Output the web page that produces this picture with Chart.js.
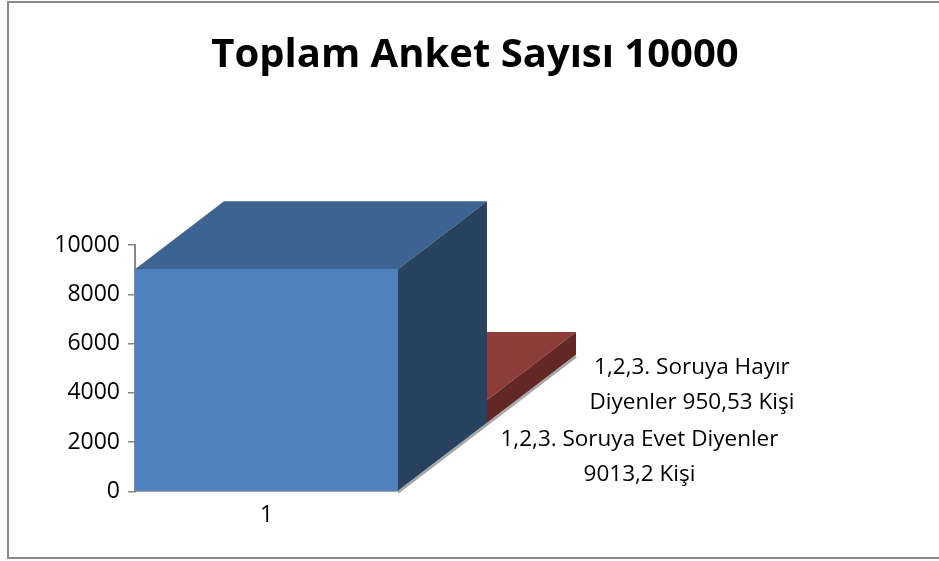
<!DOCTYPE html>
<html>
<head>
<meta charset="utf-8">
<script src="https://cdn.jsdelivr.net/npm/chart.js@4/dist/chart.umd.min.js"></script>
<style>
  html, body { margin: 0; padding: 0; background: #fff; }
  #wrap { position: relative; width: 939px; height: 561px; overflow: hidden; }
  #frame { position: absolute; left: 7px; top: 1px; width: 940px; height: 558px; border: 2px solid #8a8a8a; box-sizing: border-box; pointer-events: none; }
  canvas { position: absolute; left: 0; top: 0; }
</style>
</head>
<body>
<div id="wrap">
  <canvas id="chart" width="939" height="561"></canvas>
  <div id="frame"></div>
</div>
<script>
// chart data
const categories = ["1"];
const evetValues = [9013.2];
const hayirValues = [950.53];
const seriesLabels = [
  ["1,2,3. Soruya Evet Diyenler", "9013,2 Kişi"],
  ["1,2,3. Soruya Hayır", "Diyenler 950,53 Kişi"],
];
const yTicks = [0, 2000, 4000, 6000, 8000, 10000];
const titleText = "Toplam Anket Sayısı 10000";

// 3d depth of one series row
const DX = 89, DY = -68;
const faceColors = [
  { front: "#4F81BD", top: "#3D6490", side: "#294260" },
  { front: "#9E413E", top: "#8E3C3A", side: "#622826" },
];
const FONT = "'Open Sans', Lato, sans-serif";

function poly(ctx, pts, color) {
  ctx.beginPath();
  ctx.moveTo(pts[0][0], pts[0][1]);
  for (let i = 1; i < pts.length; i++) ctx.lineTo(pts[i][0], pts[i][1]);
  ctx.closePath();
  ctx.fillStyle = color;
  ctx.fill();
}

const cube3d = {
  id: "cube3d",
  beforeDatasetsDraw(chart) {
    const ctx = chart.ctx;
    const area = chart.chartArea;
    ctx.save();
    // right floor edge
    ctx.strokeStyle = "#a6a6a6";
    ctx.lineWidth = 2.5;
    ctx.beginPath();
    ctx.moveTo(area.right, area.bottom + 1);
    ctx.lineTo(area.right + 2 * DX, area.bottom + 1 + 2 * DY);
    ctx.stroke();

    // back row first
    for (let row = chart.data.datasets.length - 1; row >= 0; row--) {
      const meta = chart.getDatasetMeta(row);
      const c = faceColors[row];
      meta.data.forEach((bar) => {
        const L = bar.x - bar.width / 2 + row * DX;
        const R = bar.x + bar.width / 2 + row * DX;
        const T = bar.y + row * DY;
        const B = bar.base + row * DY;
        if (row > 0) poly(ctx, [[L, T], [R, T], [R, B], [L, B]], c.front);
        poly(ctx, [[L, T], [R, T], [R + DX, T + DY], [L + DX, T + DY]], c.top);
        poly(ctx, [[R, T], [R + DX, T + DY], [R + DX, B + DY], [R, B]], c.side);
      });
    }
    ctx.restore();
  },
  afterDraw(chart) {
    const ctx = chart.ctx;
    const area = chart.chartArea;
    ctx.save();
    // title, centred on the whole frame
    ctx.font = "bold 40px " + FONT;
    ctx.fillStyle = "#000";
    ctx.textAlign = "center";
    ctx.textBaseline = "alphabetic";
    ctx.fillText(titleText, 475, 67);

    // series names along the depth axis
    ctx.font = "22.5px " + FONT;
    ctx.textBaseline = "middle";
    const lh = 35;
    seriesLabels.forEach((lines, row) => {
      const mx = area.right + (row + 0.5) * DX;
      const my = area.bottom + (row + 0.5) * DY - row * 4;
      const w = Math.max(...lines.map((t) => ctx.measureText(t).width));
      const cx = mx + 58 + w / 2;
      lines.forEach((t, i) => {
        ctx.fillText(t, cx, my + (i - (lines.length - 1) / 2) * lh);
      });
    });
    ctx.restore();
  },
};

new Chart(document.getElementById("chart"), {
  type: "bar",
  data: {
    labels: categories,
    datasets: [
      {
        label: seriesLabels[0].join(" "),
        data: evetValues,
        backgroundColor: faceColors[0].front,
        borderWidth: 0,
        grouped: false,
        barPercentage: 1,
        categoryPercentage: 1,
      },
      {
        label: seriesLabels[1].join(" "),
        data: hayirValues,
        backgroundColor: "rgba(0,0,0,0)",
        borderWidth: 0,
        grouped: false,
        barPercentage: 1,
        categoryPercentage: 1,
      },
    ],
  },
  options: {
    responsive: false,
    animation: false,
    devicePixelRatio: 1,
    layout: { padding: { left: 0, right: 541, top: 245, bottom: 30 } },
    plugins: {
      legend: { display: false },
      tooltip: { enabled: false },
      title: { display: false },
    },
    scales: {
      x: {
        grid: { display: false },
        border: { display: true, color: "#a6a6a6", width: 2 },
        ticks: { color: "#000", font: { family: FONT, size: 23 }, padding: 2 },
      },
      y: {
        min: 0,
        max: 10000,
        afterFit(scale) { scale.width = 135; },
        afterBuildTicks(scale) { scale.ticks = yTicks.map((v) => ({ value: v })); },
        grid: { drawOnChartArea: false, color: "#868686", tickLength: 7, lineWidth: 1.5 },
        border: { display: true, color: "#868686", width: 2 },
        ticks: {
          color: "#000",
          font: { family: FONT, size: 23 },
          padding: 8,
          callback: (v) => String(v),
        },
      },
    },
  },
  plugins: [cube3d],
});
</script>
</body>
</html>
